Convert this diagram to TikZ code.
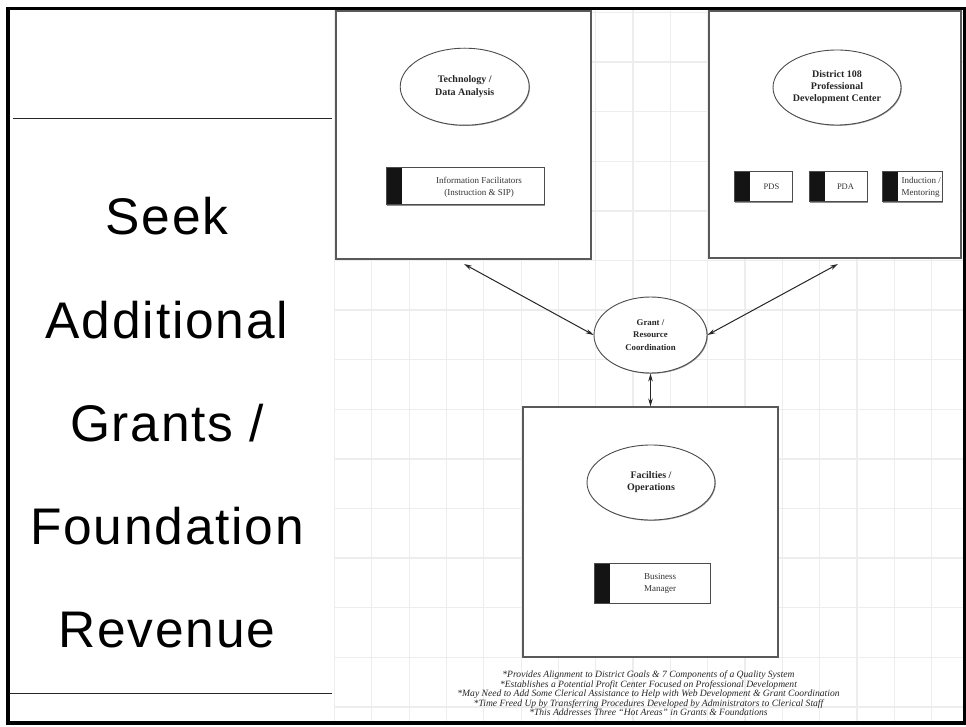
\documentclass[tikz,border=0pt]{standalone}
\usepackage{fontspec}
\setmainfont{Liberation Serif}
\newfontfamily\panelfont[LetterSpace=3.5]{Liberation Sans}
\usetikzlibrary{arrows.meta,shapes.geometric,shadows}

\tikzset{
  gridline/.style={draw=black!7, line width=1.3pt},
  rule/.style={draw=black!85, line width=1pt},
  frameline/.style={draw=black, line width=3.2pt},
  unitbox/.style={rectangle, draw=black!65, line width=1.1pt, fill=white, inner sep=0pt,
    drop shadow={shadow xshift=1.4pt, shadow yshift=-1.4pt, fill=black!55, opacity=0.8}},
  hub/.style={ellipse, draw=black!70, line width=0.9pt, fill=white, inner sep=0pt,
    align=center, text=black!85,
    drop shadow={shadow xshift=0.8pt, shadow yshift=-0.8pt, fill=black!55, opacity=0.7}},
  rolebox/.style={rectangle, draw=black!70, line width=1pt, fill=white, inner sep=0pt,
    drop shadow={shadow xshift=1.2pt, shadow yshift=-1.2pt, fill=black!55, opacity=0.8},
    path picture={\fill[black!92] (path picture bounding box.north west)
      rectangle ([xshift=16pt]path picture bounding box.south west);}},
  roletext/.style={inner sep=0pt, align=center, text=black!80,
    font=\fontsize{9}{11.5}\selectfont},
  link/.style={draw=black!85, line width=1pt,
    {Stealth[length=8pt,width=4.5pt]}-{Stealth[length=8pt,width=4.5pt]}},
  paneltext/.style={inner sep=0pt, anchor=base, font=\panelfont\fontsize{51.5}{51.5}\selectfont},
  notetext/.style={inner sep=0pt, anchor=base, text=black!85,
    font=\itshape\fontsize{9.6}{9.5}\selectfont}
}

\begin{document}
\begin{tikzpicture}[x=1pt, y=-1pt]
\useasboundingbox (0,0) rectangle (966,727);
\fill[white] (0,0) rectangle (966,727);

% background grid of the planning sheet
\foreach \i in {0,...,16}
  \draw[gridline] (334.5+\i*37.33,10) -- (334.5+\i*37.33,721);
\foreach \j in {0,...,14}
  \draw[gridline] (334,12.5+\j*49.6) -- (963,12.5+\j*49.6);

% left title panel
\fill[white] (8,8) rectangle (333,722);
\draw[rule] (13,118.5) -- (332,118.5);
\draw[rule] (8,693.3) -- (332,693.3);
\node[paneltext] (t1) at (167,235) {Seek};
\node[paneltext] (t2) at (167,338) {Additional};
\node[paneltext] (t3) at (167,441) {Grants /};
\node[paneltext] (t4) at (167,544) {Foundation};
\node[paneltext] (t5) at (167,647) {Revenue};

% unit boxes
\node[unitbox, minimum width=255pt, minimum height=248pt] (techbox) at (463.5,135) {};
\node[unitbox, minimum width=252pt, minimum height=247pt] (pdcbox) at (835,134.5) {};
\node[unitbox, minimum width=255pt, minimum height=250pt] (facbox) at (650.5,532) {};

% hubs
\node[hub, minimum width=129pt, minimum height=77pt,
  font=\bfseries\fontsize{10}{13}\selectfont] (tech) at (464.7,86.7)
  {Technology /\\Data Analysis};
\node[hub, minimum width=128pt, minimum height=75pt,
  font=\bfseries\fontsize{10}{12}\selectfont] (pdc) at (837,87.5)
  {District 108\\Professional\\Development Center};
\node[hub, minimum width=113pt, minimum height=76pt,
  font=\bfseries\fontsize{8.8}{12.5}\selectfont] (grant) at (650.5,335)
  {Grant /\\Resource\\Coordination};
\node[hub, minimum width=128pt, minimum height=75pt,
  font=\bfseries\fontsize{10}{12}\selectfont] (fac) at (651,482.5)
  {Facilties /\\Operations};

% staff roles
\node[rolebox, minimum width=158pt, minimum height=37pt] (info) at (465,186.5) {};
\node[roletext] (infot) at (479,187.5) {Information Facilitators\\(Instruction \& SIP)};

\node[rolebox, minimum width=58pt, minimum height=30pt] (pds) at (763,187) {};
\node[roletext, font=\fontsize{8.5}{10}\selectfont] (pdst) at (771.5,187) {PDS};

\node[rolebox, minimum width=58pt, minimum height=30pt] (pda) at (838,187) {};
\node[roletext, font=\fontsize{8.5}{10}\selectfont] (pdat) at (845.5,187) {PDA};

\node[rolebox, minimum width=60pt, minimum height=30pt] (ind) at (912,187) {};
\begin{scope}
  \clip (ind.north west) rectangle (ind.south east);
  \node[roletext, align=left, anchor=west] (indt) at (901.5,187.5) {Induction /\\Mentoring};
\end{scope}

\node[rolebox, minimum width=116pt, minimum height=40pt] (bus) at (652,583) {};
\node[roletext] (bust) at (660,583.5) {Business\\Manager};

% coordination links
\coordinate (techend) at (464,264);
\coordinate (pdcend) at (838,264);
\draw[link] (techend) -- (grant.west);
\draw[link] (pdcend) -- (grant.east);
\draw[link] (grant.south) -- (facbox.north -| grant.south);

% notes
\begin{scope}
  \clip (334,660) rectangle (963,721);
  \node[notetext] (n1) at (648.5,677.5) {*Provides Alignment to District Goals \& 7 Components of a Quality System};
  \node[notetext] (n2) at (648.5,687) {*Establishes a Potential Profit Center Focused on Professional Development};
  \node[notetext] (n3) at (648.5,696.5) {*May Need to Add Some Clerical Assistance to Help with Web Development \& Grant Coordination};
  \node[notetext] (n4) at (648.5,706) {*Time Freed Up by Transferring Procedures Developed by Administrators to Clerical Staff};
  \node[notetext] (n5) at (648.5,715.5) {*This Addresses Three ``Hot Areas'' in Grants \& Foundations};
\end{scope}

% outer frame
\draw[frameline] (8,8.7) rectangle (964.3,723);
\end{tikzpicture}
\end{document}
